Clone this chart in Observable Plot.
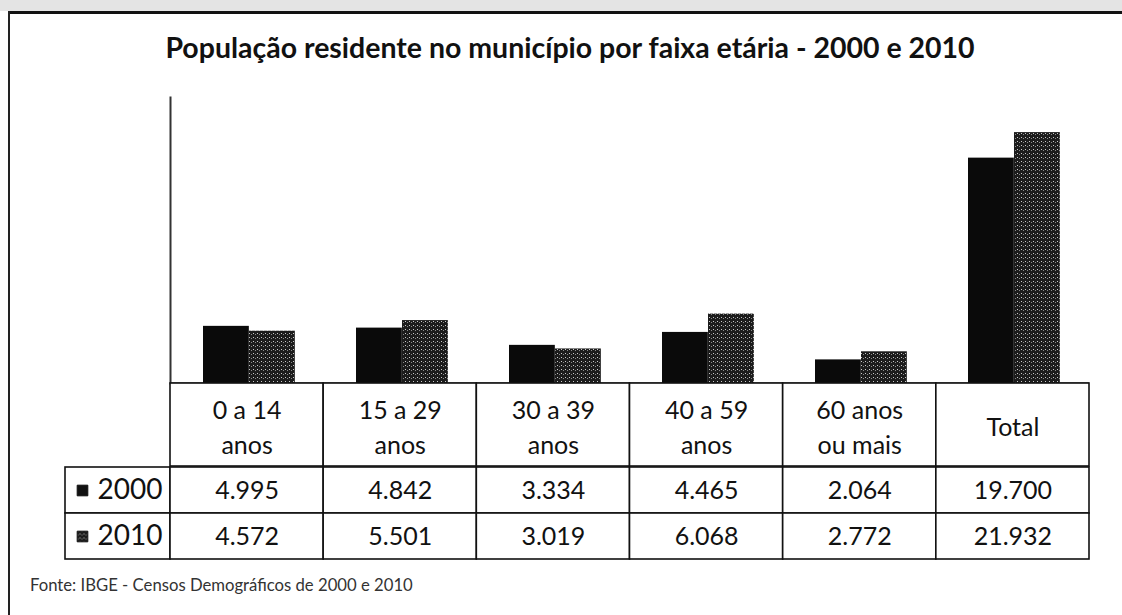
<!DOCTYPE html>
<html>
<head>
<meta charset="utf-8">
<script src="https://cdn.jsdelivr.net/npm/d3@7"></script>
<script src="https://cdn.jsdelivr.net/npm/@observablehq/plot@0.6"></script>
<style>
  html, body { margin: 0; padding: 0; background: #fff; overflow: hidden; }
  #page { position: relative; width: 1122px; height: 615px; overflow: hidden; background: #fff; font-family: Lato, "Open Sans", sans-serif; }
  #noise { position: absolute; left: 0; top: 0; width: 1122px; height: 11px; background: #e4e4e4; }
  #topline { position: absolute; left: 8px; top: 11px; width: 1114px; height: 3px; background: #111; }
  #leftline { position: absolute; left: 8px; top: 11px; width: 2px; height: 604px; background: #222; }
  #title { position: absolute; top: 32px; left: 0; width: 1122px; padding-left: 18px; box-sizing: border-box; text-align: center; font-weight: bold; color: #111; line-height: 30px; white-space: nowrap; }
  #footer { position: absolute; top: 576px; left: 30px; color: #333; line-height: 18px; white-space: nowrap; }
  .chart { position: absolute; left: 0; }
</style>
</head>
<body>
<div id="page">
  <div id="noise"></div>
  <div id="topline"></div>
  <div id="leftline"></div>
  <div id="title">População residente no município por faixa etária - 2000 e 2010</div>
  <div id="bars" class="chart" style="top:0px"></div>
  <div id="head" class="chart" style="top:383px"></div>
  <div id="vals" class="chart" style="top:466px"></div>
  <div id="footer">Fonte: IBGE - Censos Demográficos de 2000 e 2010</div>
</div>
<script>
// ---- data ----
const categories = ["0 a 14 anos", "15 a 29 anos", "30 a 39 anos", "40 a 59 anos", "60 anos ou mais", "Total"];
const headerLabels = ["0 a 14\nanos", "15 a 29\nanos", "30 a 39\nanos", "40 a 59\nanos", "60 anos\nou mais", "Total"];
const years = ["2000", "2010"];
const values2000 = [4995, 4842, 3334, 4465, 2064, 19700];
const values2010 = [4572, 5501, 3019, 6068, 2772, 21932];
const yTicks = [0, 25000];

// ---- derived tables ----
const bars2000 = categories.map((c, i) => ({cat: c, col: i, year: "2000", value: values2000[i]}));
const bars2010 = categories.map((c, i) => ({cat: c, col: i, year: "2010", value: values2010[i]}));
const header = categories.map((c, i) => ({cat: c, col: i, label: headerLabels[i]}));
const cells = [...bars2000, ...bars2010];

const fmt = d3.formatLocale({decimal: ",", thousands: ".", grouping: [3], currency: ["R$", ""]}).format(",d");

// ---- layout ----
const W = 1122, mL = 170, mR = 33, tableLeft = 65;
const bw = (W - mL - mR) / categories.length;
const labelW = (mL - tableLeft) / bw;
const barW = 46, gapL = 32, gapR = bw - 2 * barW - gapL;
const font = "Lato, 'Open Sans', sans-serif";

// fit title and footer widths
function fitFont(el, target, weight) {
  const c = document.createElement("canvas").getContext("2d");
  c.font = `${weight} 100px Lato`;
  const w = c.measureText(el.textContent).width;
  el.style.fontSize = (100 * target / w).toFixed(2) + "px";
}
fitFont(document.getElementById("title"), 810, "bold");
fitFont(document.getElementById("footer"), 383, "normal");

// ---- bar chart ----
const barChart = Plot.plot({
  width: W, height: 384,
  marginTop: 97, marginBottom: 1, marginLeft: mL, marginRight: mR,
  style: {overflow: "visible", fontFamily: font, background: "transparent"},
  x: {domain: categories, padding: 0, axis: null},
  y: {domain: yTicks, axis: null},
  marks: [
    Plot.barY(bars2000, {x: "cat", y: "value", fill: "#0a0a0a", insetLeft: gapL, insetRight: gapR + barW}),
    Plot.barY(bars2010, {x: "cat", y: "value", fill: "url(#pat2010)", insetLeft: gapL + barW, insetRight: gapR}),
    Plot.ruleY([0], {stroke: "#111", strokeWidth: 2}),
    Plot.frame({anchor: "left", stroke: "#333", strokeWidth: 2})
  ]
});
// pattern for 2010 series
const defs = d3.select(barChart).insert("defs", ":first-child");
const pat = defs.append("pattern").attr("id", "pat2010").attr("width", 4).attr("height", 4).attr("patternUnits", "userSpaceOnUse");
pat.append("rect").attr("width", 4).attr("height", 4).attr("fill", "#1c1c1c");
pat.append("rect").attr("x", 1).attr("y", 1).attr("width", 1).attr("height", 1).attr("fill", "#c8c8c8");
pat.append("rect").attr("x", 3).attr("y", 2).attr("width", 1).attr("height", 1).attr("fill", "#8a8a8a");
document.getElementById("bars").appendChild(barChart);

// ---- table header ----
const headChart = Plot.plot({
  width: W, height: 83,
  marginTop: 0, marginBottom: 0, marginLeft: tableLeft, marginRight: mR,
  style: {overflow: "visible", fontFamily: font, background: "transparent"},
  x: {domain: [-labelW, categories.length], axis: null},
  marks: [
    Plot.barX(header, {x1: "col", x2: d => d.col + 1, fill: "white", stroke: "#111", strokeWidth: 1.6}),
    Plot.text(header, {x: d => d.col + 0.5, text: "label", frameAnchor: "middle", fontSize: 25, lineHeight: 1.4, fill: "#111"})
  ]
});
document.getElementById("head").appendChild(headChart);

// ---- table values ----
const valChart = Plot.plot({
  width: W, height: 93,
  marginTop: 0, marginBottom: 0, marginLeft: tableLeft, marginRight: mR,
  style: {overflow: "visible", fontFamily: font, background: "transparent"},
  x: {domain: [-labelW, categories.length], axis: null},
  y: {domain: years, padding: 0, axis: null},
  marks: [
    Plot.barX(years, {x1: -labelW, x2: 0, y: d => d, fill: "white", stroke: "#111", strokeWidth: 1.6}),
    Plot.barX(cells, {x1: "col", x2: d => d.col + 1, y: "year", fill: "white", stroke: "#111", strokeWidth: 1.6}),
    Plot.text(cells, {x: d => d.col + 0.5, y: "year", text: d => fmt(d.value), fontSize: 25, fill: "#111"}),
    Plot.text(years, {x: 0, y: d => d, text: d => d, textAnchor: "end", dx: -8, fontSize: 28, fill: "#111"}),
    Plot.dot(years, {x: -labelW, y: d => d, dx: 17, symbol: "square", r: 6, fill: d => d === "2000" ? "#111" : "url(#pat2010)", stroke: "#111", strokeWidth: 1})
  ]
});
document.getElementById("vals").appendChild(valChart);
</script>
</body>
</html>
